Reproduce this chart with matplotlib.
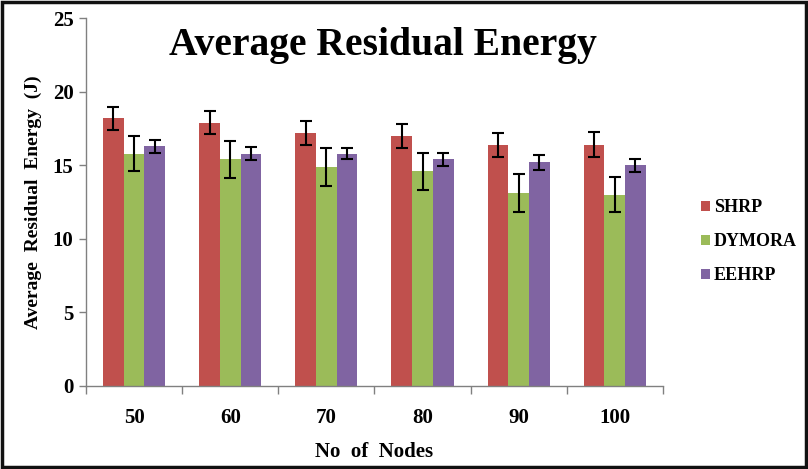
import matplotlib
matplotlib.use("Agg")
import matplotlib.pyplot as plt
import numpy as np
from matplotlib.patches import Rectangle

categories = ["50", "60", "70", "80", "90", "100"]
series = ["SHRP", "DYMORA", "EEHRP"]
shrp = [18.2, 17.9, 17.2, 17.0, 16.4, 16.4]
dymora = [15.8, 15.4, 14.9, 14.6, 13.1, 13.0]
eehrp = [16.3, 15.8, 15.8, 15.4, 15.2, 15.0]
shrp_err = [0.8, 0.8, 0.8, 0.8, 0.8, 0.85]
dymora_err = [1.2, 1.25, 1.3, 1.25, 1.3, 1.2]
eehrp_err = [0.45, 0.42, 0.4, 0.45, 0.5, 0.45]
colors = ["#C0504D", "#9BBB59", "#8064A2"]
yticks = [0, 5, 10, 15, 20, 25]

plt.rcParams['font.family'] = ['Liberation Serif', 'DejaVu Serif']

fig = plt.figure(figsize=(8.08, 4.69), dpi=100)
ax = fig.add_axes([0.1064, 0.177, 0.714, 0.784])

x = np.arange(len(categories))
w = 0.215
vals = [shrp, dymora, eehrp]
errs = [shrp_err, dymora_err, eehrp_err]
for i, (v, e, c, name) in enumerate(zip(vals, errs, colors, series)):
    ax.bar(x + (i - 1) * w, v, width=w, color=c, label=name, zorder=2,
           yerr=e, capsize=4.5,
           error_kw=dict(ecolor='black', elinewidth=1.5, capthick=1.5, zorder=3))

ax.set_xlim(-0.5, len(categories) - 0.5)
ax.set_ylim(0, 25)
ax.set_yticks(yticks)
ax.set_yticklabels([str(t) for t in yticks], fontsize=15, fontweight='bold')
ax.set_xticks(x)
ax.set_xticklabels(categories, fontsize=15, fontweight='bold')
ax.tick_params(axis='x', length=0, pad=16)
ax.set_xticks(np.arange(len(categories) + 1) - 0.5, minor=True)
ax.tick_params(axis='x', which='minor', length=6, color='#808080', width=1)
ax.tick_params(axis='y', length=5, color='#808080', width=1, pad=4)
for s in ['top', 'right']:
    ax.spines[s].set_visible(False)
for s in ['left', 'bottom']:
    ax.spines[s].set_color('#808080')
    ax.spines[s].set_linewidth(1)

ax.set_xlabel("No  of  Nodes", fontsize=15, fontweight='bold', labelpad=10)
ax.set_ylabel("Average  Residual  Energy  (J)", fontsize=14, fontweight='bold', labelpad=8)

fig.text(0.474, 0.902, "Average Residual Energy", fontsize=28.5, fontweight='bold',
         ha='center', va='center')

leg = fig.legend(loc='upper left', bbox_to_anchor=(0.848, 0.61), frameon=False,
                 prop=dict(size=13, weight='bold'), handlelength=0.5, handleheight=0.5,
                 handletextpad=0.2, labelspacing=0.95)

fig.add_artist(Rectangle((0.003, 0.004), 0.994, 0.992, transform=fig.transFigure,
                         fill=False, edgecolor='#111111', linewidth=2.5))

fig.savefig("out.png", dpi=100)
